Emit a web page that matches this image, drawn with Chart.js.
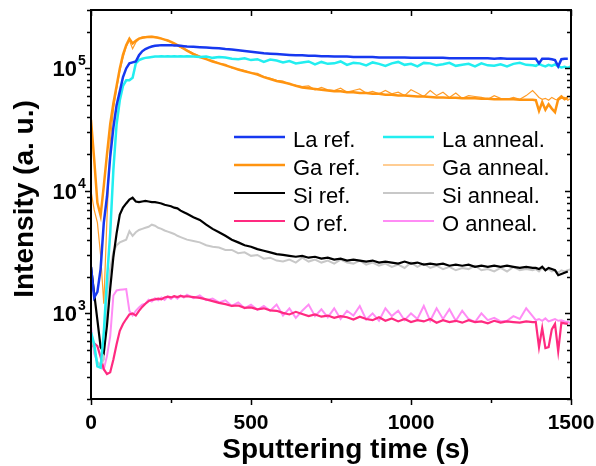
<!DOCTYPE html>
<html>
<head>
<meta charset="utf-8">
<script src="https://cdn.jsdelivr.net/npm/chart.js@4"></script>
<style>
  html, body { margin: 0; padding: 0; background: #fff; }
  #chart { display: block; }
</style>
</head>
<body>
<canvas id="chart" width="596" height="466"></canvas>
<script>
// Sputtering time (s)
const times = [
  0, 10, 20, 30, 40, 50, 60, 70, 80, 90, 100, 110, 120, 130, 140, 150, 160, 170, 180, 190, 200, 210, 220, 230, 240, 250, 260, 270, 280, 290, 300,
  320, 340, 360, 380, 400, 420, 440, 460, 480, 500, 520, 540, 560, 580, 600, 620, 640, 660, 680, 700,
  720, 740, 760, 780, 800, 820, 840, 860, 880, 900, 920, 940, 960, 980, 1000, 1020, 1040, 1060, 1080, 1100,
  1120, 1140, 1160, 1180, 1200, 1220, 1240, 1260, 1280, 1300, 1320, 1340, 1360, 1380,
  1390, 1400, 1410, 1420, 1430, 1440, 1450, 1460, 1470, 1480, 1490, 1500
];

// Intensities (a. u.)
const laRef = [
  2400, 1350, 1500, 2300, 5500, 9000, 19000, 33000, 50000, 65000, 85000, 100000, 110000, 112000, 114000, 128000, 138000, 144000, 148000, 151000,
  153000, 154000, 155000, 155000, 155000, 155000, 154000, 154000, 153000, 152000, 151000,
  150000, 149000, 148000, 147000, 146000, 144000, 143000, 141000, 139000, 137000,
  135000, 133000, 132000, 131000, 130000, 129000, 128000, 128000, 127000, 127000,
  126000, 126000, 125000, 125000, 125000, 124000, 124000, 124000, 124000, 123000,
  123000, 123000, 123000, 123000, 122000, 122000, 122000, 122000, 122000, 122000,
  121000, 121000, 121000, 121000, 121000, 121000, 121000, 120000, 121000, 120000,
  120000, 120000, 120000, 120000,
  120000, 110000, 120000, 120000, 120000, 119000, 117000, 104000, 119000, 120000, 120000, null
];
const laAnneal = [
  700, 560, 370, 360, 700, 1900, 4500, 15000, 35000, 55000, 72000, 80000, 80000, 84000, 110000, 117000, 120000, 122000, 123000, 124000,
  125000, 125000, 126000, 125000, 126000, 125000, 126000, 125000, 126000, 125000, 126000,
  125000, 124000, 125000, 122000, 124000, 123000, 120000, 119000, 121000, 117000,
  119000, 113000, 118000, 116000, 112000, 115000, 110000, 112000, 114000, 108000,
  113000, 109000, 110000, 114000, 107000, 111000, 110000, 106000, 112000, 109000,
  105000, 110000, 113000, 107000, 109000, 104000, 111000, 110000, 106000, 108000,
  111000, 105000, 107000, 109000, 104000, 110000, 106000, 105000, 108000, 104000,
  109000, 111000, 107000, 106000,
  105000, 109000, 106000, 104000, 107000, 105000, 108000, 104000, 102000, 103000, 101000, 104000
];
const gaRef = [
  38000, 18000, 8000, 6300, 11000, 20000, 35000, 52000, 72000, 100000, 130000, 155000, 175000, 160000, 168000, 175000, 178000, 180000, 181000, 181000,
  180000, 178000, 175000, 172000, 169000, 165000, 160000, 155000, 150000, 145000, 140000,
  131000, 124000, 119000, 114000, 110000, 106000, 102000, 98000, 95000, 92000,
  89000, 85000, 82000, 79000, 77000, 75000, 72000, 70000, 69000, 68000,
  67000, 66000, 65000, 65000, 64000, 64000, 63000, 63000, 62000, 62000,
  61000, 61000, 60000, 60000, 59500, 59000, 59000, 58500, 58000, 58000,
  57500, 57500, 57000, 57000, 57000, 56500, 56500, 56000, 56000, 56000,
  56000, 55500, 55500, 55500,
  55000, 45000, 53000, 46000, 51000, 47000, 44000, 56000, 59000, 56000, 58000, null
];
const gaAnneal = [
  10000, 7000, 5500, 3000, 1200, 6000, 25000, 46000, 68000, 95000, 122000, 150000, 170000, 145000, 163000, 175000, 180000, 182000, 183000, 184000,
  182000, 179000, 176000, 172000, 168000, 164000, 159000, 154000, 149000, 145000, 141000,
  133000, 126000, 119000, 116000, 110000, 108000, 101000, 99000, 96000, 92000,
  91000, 86000, 83000, 80000, 79000, 74000, 73000, 71000, 72000, 67000,
  70000, 67000, 66000, 69000, 64000, 66000, 68000, 63000, 65000, 62000,
  66000, 62000, 64000, 60000, 67000, 63000, 59000, 66000, 60000, 64000,
  58000, 63000, 57000, 60000, 59000, 58000, 56000, 60000, 57000, 56000,
  58000, 56000, 60000, 66000,
  62000, 58000, 56000, 57000, 55000, 58000, 56000, 55000, 57000, 58000, 55000, 57000
];
const siRef = [
  2400, 1450, 880, 530, 480, 800, 1600, 2900, 4500, 6400, 7300, 7900, 8500, 8800, 8200, 8100, 8200, 8300, 8200, 8100,
  8100, 8000, 7900, 7700, 7600, 7500, 7300, 7200, 6900, 6700, 6500,
  6100, 5800, 5300, 4900, 4600, 4300, 4000, 3800, 3600, 3500,
  3350, 3250, 3150, 3050, 3000, 2950, 2900, 2950, 2850, 2900,
  2800, 2850, 2750, 2800, 2700, 2750, 2700, 2650, 2700, 2600,
  2650, 2600, 2550, 2650, 2550, 2600, 2500, 2550, 2500, 2550,
  2450, 2500, 2450, 2500, 2400, 2450, 2400, 2450, 2400, 2450,
  2400, 2350, 2400, 2350,
  2350, 2300, 2400, 2250, 2350, 2300, 2250, 2050, 2100, 2150, 2200, null
];
const siAnneal = [
  700, 500, 400, 380, 420, 1400, 2300, 3200, 3600, 3800, 3900, 4000, 4700, 4300, 4600, 4800, 4900, 5000, 5100, 5300,
  5200, 5000, 4900, 4750, 4650, 4550, 4450, 4300, 4200, 4100, 4000,
  3900, 3800, 3600, 3500, 3450, 3300, 3300, 3100, 3150, 2950,
  3000, 2800, 2850, 2700, 2650, 2750, 2600, 2850, 2650, 2750,
  2600, 2700, 2550, 2750, 2600, 2550, 2700, 2500, 2600, 2450,
  2550, 2400, 2500, 2350, 2600, 2400, 2550, 2350, 2450, 2300,
  2400, 2250, 2350, 2300, 2450, 2250, 2300, 2200, 2350, 2200,
  2400, 2250, 2300, 2250,
  2300, 2200, 2350, 2250, 2300, 2200, 2250, 2150, 2250, 2200, 2250, 2300
];
const oRef = [
  530, 570, 540, 440, 350, 320, 330, 420, 560, 720, 820, 900, 980, 1000, 960, 1050, 1130, 1200, 1260, 1290,
  1300, 1320, 1300, 1350, 1370, 1350, 1380, 1360, 1390, 1370, 1380,
  1360, 1340, 1300, 1260, 1220, 1190, 1150, 1160, 1110, 1120,
  1080, 1100, 1060, 1050, 1010, 980, 1030, 990, 950, 980,
  940, 960, 920, 950, 930, 890, 940, 900, 880, 930,
  870, 910, 860, 900, 850, 880, 860, 900, 840, 880,
  850, 870, 840, 880, 850, 860, 830, 870, 840, 860,
  850, 840, 860, 850,
  850, 530, 760, 520, 530, 740, 820, 490, 840, 830, 820, null
];
const oAnneal = [
  780, 470, 400, 370, 350, 450, 650, 1400, 1540, 1560, 1570, 1580, 1050, 960, 1050, 1120, 1180, 1200, 1290, 1250,
  1330, 1280, 1350, 1290, 1370, 1310, 1380, 1320, 1400, 1350, 1420,
  1330, 1400, 1280, 1320, 1230, 1280, 1150, 1230, 1100, 1180,
  1070, 1150, 1050, 1180, 960, 1100, 920, 1050, 1180, 950,
  1080, 930, 1100, 900, 1050, 960, 1150, 890, 1000, 870,
  1100, 950, 1050, 880, 1000, 900, 1150, 870, 1100, 900,
  1080, 870, 1050, 900, 850, 1000, 880, 920, 860, 870,
  950, 900, 1100, 950,
  880, 900, 870, 910, 860, 880, 900, 870, 880, 860, 850, 830
];

// Axes
const xTicks = [0, 250, 500, 750, 1000, 1250, 1500];
const xLabels = ['0', '', '500', '', '1000', '', '1500'];
const yDecades = [1000, 10000, 100000];
const yExponents = ['3', '4', '5'];

const FONT = '"Liberation Sans", Arial, Helvetica, sans-serif';

function series(label, data, color, width) {
  return {
    label: label,
    data: data,
    borderColor: color,
    backgroundColor: color,
    borderWidth: width,
    pointRadius: 0,
    tension: 0,
    fill: false,
  };
}

// Frame, ticks, labels and legend drawn by hand
const decorPlugin = {
  id: 'decor',
  afterDraw(chart) {
    const ctx = chart.ctx;
    const { left, right, top, bottom } = chart.chartArea;
    const xs = chart.scales.x;
    const ys = chart.scales.y;

    ctx.save();
    ctx.strokeStyle = '#000';
    ctx.lineWidth = 2;
    ctx.strokeRect(left, top, right - left, bottom - top);

    ctx.lineWidth = 1.5;
    ctx.beginPath();
    xTicks.forEach((t, i) => {
      const px = Math.round(xs.getPixelForValue(t)) + 0.5;
      const len = xLabels[i] ? 6 : 4;
      ctx.moveTo(px, bottom); ctx.lineTo(px, bottom + len);
      ctx.moveTo(px, top); ctx.lineTo(px, top + len);
    });
    // log ticks: decades long, 2..9 short
    for (let d = 100; d <= 100000; d *= 10) {
      for (let m = 1; m <= 9; m++) {
        const v = d * m;
        if (v < ys.min || v > ys.max) continue;
        const py = Math.round(ys.getPixelForValue(v)) + 0.5;
        const len = m === 1 ? 6 : 4;
        ctx.moveTo(left, py); ctx.lineTo(left - len, py);
        ctx.moveTo(right, py); ctx.lineTo(right - len, py);
      }
    }
    ctx.stroke();

    ctx.fillStyle = '#000';
    ctx.font = 'bold 21px ' + FONT;
    ctx.textAlign = 'center';
    ctx.textBaseline = 'alphabetic';
    xTicks.forEach((t, i) => {
      if (xLabels[i]) ctx.fillText(xLabels[i], xs.getPixelForValue(t), 429);
    });

    yDecades.forEach((v, i) => {
      const py = ys.getPixelForValue(v);
      ctx.font = 'bold 22px ' + FONT;
      ctx.textAlign = 'right';
      ctx.fillText('10', 77, py + 8);
      ctx.font = 'bold 14px ' + FONT;
      ctx.textAlign = 'left';
      ctx.fillText(yExponents[i], 78, py - 3);
    });

    ctx.font = 'bold 28px ' + FONT;
    ctx.textAlign = 'center';
    ctx.fillText('Sputtering time (s)', 346, 458);

    ctx.save();
    ctx.translate(33, 199);
    ctx.rotate(-Math.PI / 2);
    ctx.fillText('Intensity (a. u.)', 0, 0);
    ctx.restore();

    // legend, two columns
    const rows = [137, 165, 193, 221];
    ctx.font = '22px ' + FONT;
    ctx.textAlign = 'left';
    chart.data.datasets.forEach((ds, i) => {
      const col = i % 2;
      const y = rows[Math.floor(i / 2)];
      const x0 = col === 0 ? 234 : 383;
      ctx.strokeStyle = ds.borderColor;
      ctx.lineWidth = ds.borderWidth;
      ctx.beginPath();
      ctx.moveTo(x0, y);
      ctx.lineTo(x0 + 51, y);
      ctx.stroke();
      ctx.fillStyle = '#000';
      ctx.fillText(ds.label, x0 + 59, y + 10);
    });
    ctx.restore();
  }
};

const chart = new Chart(document.getElementById('chart'), {
  type: 'line',
  data: {
    labels: times,
    datasets: [
      series('La ref.', laRef, '#1638f0', 2.5),
      series('La anneal.', laAnneal, '#22eef0', 2.5),
      series('Ga ref.', gaRef, '#ff9410', 2.5),
      series('Ga anneal.', gaAnneal, '#ff9c28', 1.2),
      series('Si ref.', siRef, '#000000', 2.2),
      series('Si anneal.', siAnneal, '#c8c8c8', 2),
      series('O ref.', oRef, '#ff2a80', 2.2),
      series('O anneal.', oAnneal, '#ff8cf5', 2),
    ],
  },
  options: {
    responsive: false,
    animation: false,
    devicePixelRatio: 1,
    layout: { padding: { top: 10, right: 25, left: 0, bottom: 0 } },
    plugins: {
      legend: { display: false },
      tooltip: { enabled: false },
    },
    scales: {
      x: {
        type: 'linear',
        min: 0,
        max: 1500,
        grid: { display: false },
        border: { display: false },
        ticks: { display: false },
        afterFit: s => { s.height = 67; },
      },
      y: {
        type: 'logarithmic',
        min: 200,
        max: 300000,
        grid: { display: false },
        border: { display: false },
        ticks: { display: false },
        afterFit: s => { s.width = 91; },
      },
    },
  },
  plugins: [decorPlugin],
});
</script>
</body>
</html>
